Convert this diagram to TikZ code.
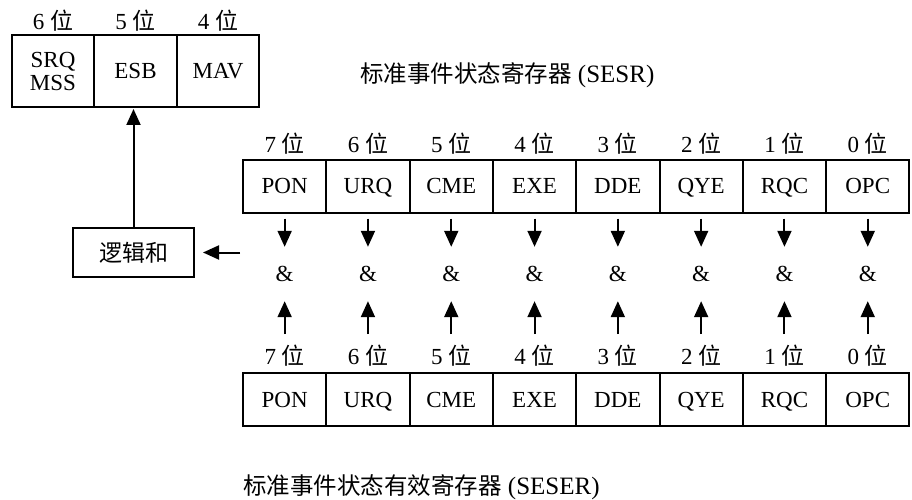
\documentclass[tikz,border=0pt]{standalone}
\usepackage{fontspec}
\setmainfont{Liberation Serif}
\newfontfamily\cjk{Noto Sans CJK SC}
\usetikzlibrary{arrows.meta}
\begin{document}
\begin{tikzpicture}[x=1pt,y=-1pt,
  bigfont/.style={font=\fontsize{23}{26}\selectfont},
  txt/.style={bigfont, inner sep=0pt},
  titletxt/.style={font=\fontsize{25}{30}\selectfont, inner sep=0pt},
  cell/.style={draw, line width=2pt, minimum width=83.3pt, minimum height=53pt, inner sep=0pt, bigfont, text height=15pt, text depth=0pt},
  topcell/.style={draw, line width=2pt, minimum height=72pt, inner sep=0pt, bigfont, align=center},
  ampnode/.style={minimum height=54pt, minimum width=20pt, inner sep=0pt, bigfont},
  arr/.style={line width=2pt, -{Triangle[width=14pt,length=16pt]}}]
\useasboundingbox (0,0) rectangle (912,500);

% top status byte part
\node[topcell, minimum width=82pt] (srq) at (53,71) {SRQ\\[-3pt]MSS};
\node[topcell, minimum width=83pt, text height=15pt, text depth=0pt] (esb) at (135.5,71) {ESB};
\node[topcell, minimum width=82pt, text height=15pt, text depth=0pt] (mav) at (218,71) {MAV};
\node[txt] (t6) at (53,21) {6 {\cjk 位}};
\node[txt] (t5) at (135.5,21) {5 {\cjk 位}};
\node[txt] (t4) at (218,21) {4 {\cjk 位}};

\node[titletxt, anchor=west] (sesr) at (360,75) {{\cjk\fontsize{23.5}{28}\selectfont 标准事件状态寄存器} (SESR)};
\node[titletxt, anchor=west] (seser) at (243,487) {{\cjk\fontsize{23.5}{28}\selectfont 标准事件状态有效寄存器} (SESER)};

\foreach \name [count=\i from 0] in {PON,URQ,CME,EXE,DDE,QYE,RQC,OPC}{
  \pgfmathsetmacro{\xc}{243+83.3*(\i+0.5)}
  \pgfmathtruncatemacro{\bit}{7-\i}
  \node[cell] (u\i) at (\xc,186) {\name};
  \node[txt] (ul\i) at (\xc,144) {\bit\ {\cjk 位}};
  \node[cell] (d\i) at (\xc,399.5) {\name};
  \node[txt] (dl\i) at (\xc,356) {\bit\ {\cjk 位}};
  \node[ampnode] (a\i) at (\xc,274) {\&};
  \draw[arr] ([yshift=-5pt]u\i.south) -- (a\i.north);
  \draw[arr] ([yshift=11pt]dl\i.north) -- (a\i.south);
}

\node[draw, line width=2pt, minimum width=121pt, minimum height=49pt, inner sep=0pt,
      bigfont] (or) at (133.5,252.5) {\cjk 逻辑和};
\coordinate (orin) at (240,252.5);
\draw[arr, shorten >=8pt] (orin) -- (or.east);
\draw[arr, shorten >=1pt] (or.north) -- (or.north |- esb.south);
\end{tikzpicture}
\end{document}
